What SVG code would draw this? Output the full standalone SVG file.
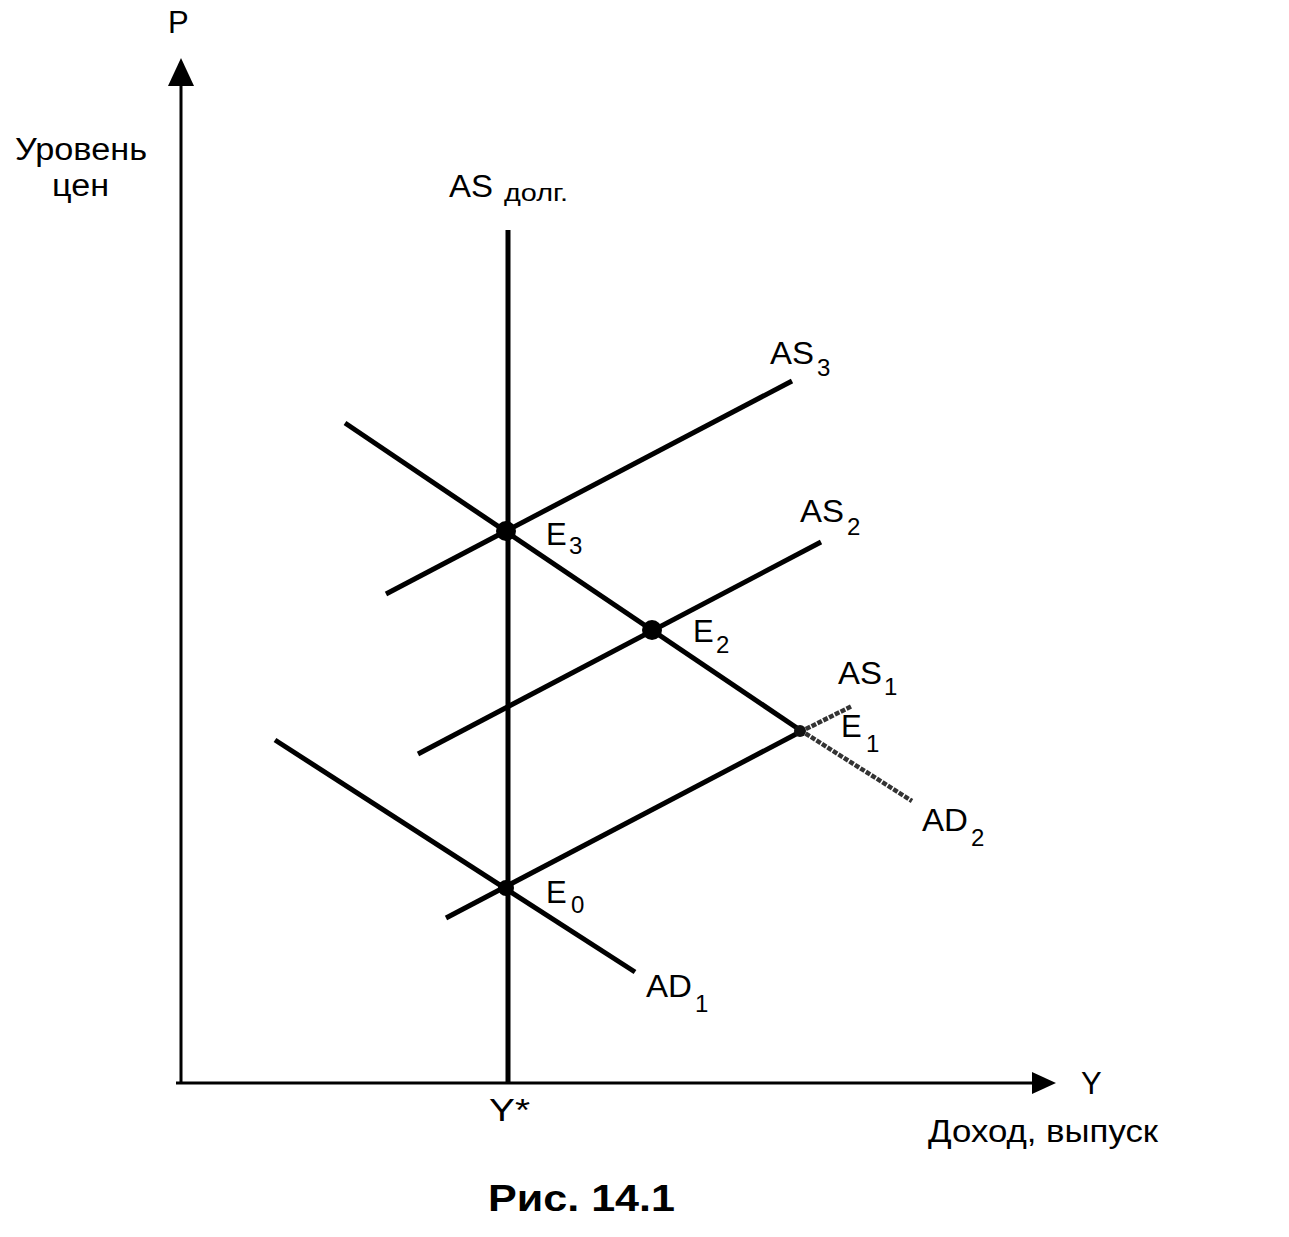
<svg xmlns="http://www.w3.org/2000/svg" width="1289" height="1237" viewBox="0 0 1289 1237">
<style>
.ax{stroke:#000;stroke-width:3;fill:none}
.ln{stroke:#000;stroke-width:5;fill:none;stroke-linecap:butt}
.gr{stroke:#333;stroke-width:4.5;fill:none;stroke-dasharray:5 1.5}
text{font-family:"Liberation Sans",Arial,sans-serif;fill:#000}
.lb{font-size:31px}
.sb{font-size:24px}
.cap{font-size:36px;font-weight:bold}
</style>
<rect width="1289" height="1237" fill="#fff"/>
<g id="axes">
<line class="ax" x1="181" y1="1083" x2="181" y2="80"/>
<polygon points="181,58 168,86 194,86" fill="#000"/>
<line class="ax" x1="176" y1="1083" x2="1036" y2="1083"/>
<polygon points="1056,1083 1032,1072 1032,1094" fill="#000"/>
</g>
<g id="connectors">
<line id="AS-long" class="ln" x1="508" y1="230" x2="508" y2="1083"/>
<line id="AS3" class="ln" x1="386" y1="594" x2="792" y2="381"/>
<line id="AS2" class="ln" x1="418" y1="754" x2="821" y2="542"/>
<line id="AS1" class="ln" x1="446" y1="918" x2="800" y2="732"/>
<line id="AS1-ext" class="gr" x1="800" y1="732" x2="852" y2="706"/>
<line id="AD2" class="ln" x1="345" y1="423" x2="800" y2="730"/>
<line id="AD2-ext" class="gr" x1="800" y1="730" x2="912" y2="801"/>
<line id="AD1" class="ln" x1="275" y1="740" x2="635" y2="972"/>
</g>
<g id="E3"><circle cx="506" cy="531" r="10" fill="#000"/><text class="lb" x="546" y="545">E</text><text class="sb" x="569" y="554">3</text></g>
<g id="E2"><circle cx="652" cy="630" r="10" fill="#000"/><text class="lb" x="693" y="642">E</text><text class="sb" x="716" y="653">2</text></g>
<g id="E1"><circle cx="800" cy="731" r="6" fill="#111"/><text class="lb" x="841" y="737">E</text><text class="sb" x="866" y="752">1</text></g>
<g id="E0"><circle cx="506" cy="888" r="8" fill="#000"/><text class="lb" x="546" y="903">E</text><text class="sb" x="571" y="913">0</text></g>
<g id="labels">
<text class="lb" x="168" y="33">P</text>
<text class="lb" x="15" y="160" textLength="132" lengthAdjust="spacingAndGlyphs">Уровень</text>
<text class="lb" x="52" y="196" textLength="57" lengthAdjust="spacingAndGlyphs">цен</text>
<text class="lb" x="449" y="197" textLength="44" lengthAdjust="spacingAndGlyphs">AS</text>
<text class="sb" x="504" y="201" textLength="64" lengthAdjust="spacingAndGlyphs">долг.</text>
<text class="lb" x="770" y="364" textLength="44" lengthAdjust="spacingAndGlyphs">AS</text><text class="sb" x="817" y="376">3</text>
<text class="lb" x="800" y="522" textLength="44" lengthAdjust="spacingAndGlyphs">AS</text><text class="sb" x="847" y="535">2</text>
<text class="lb" x="838" y="684" textLength="44" lengthAdjust="spacingAndGlyphs">AS</text><text class="sb" x="884" y="695">1</text>
<text class="lb" x="922" y="831" textLength="46" lengthAdjust="spacingAndGlyphs">AD</text><text class="sb" x="971" y="846">2</text>
<text class="lb" x="646" y="997" textLength="46" lengthAdjust="spacingAndGlyphs">AD</text><text class="sb" x="695" y="1012">1</text>
<text class="lb" x="1081" y="1094">Y</text>
<text class="lb" x="489" y="1121" textLength="41" lengthAdjust="spacingAndGlyphs">Y*</text>
<text class="lb" x="928" y="1142" textLength="230" lengthAdjust="spacingAndGlyphs">Доход, выпуск</text>
<text class="cap" x="488" y="1211" textLength="187" lengthAdjust="spacingAndGlyphs">Рис. 14.1</text>
</g>
</svg>
